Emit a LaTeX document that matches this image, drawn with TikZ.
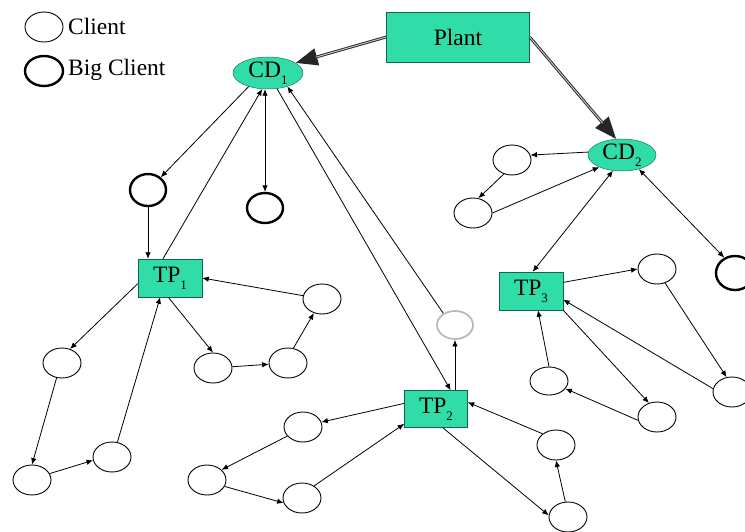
\documentclass[tikz,border=0pt]{standalone}
\usepackage{fontspec}
\setmainfont{Liberation Serif}
\usetikzlibrary{shapes.geometric,arrows.meta}
\definecolor{mint}{HTML}{30DDA8}
% label with a lowered index, e.g. CD_1
\newcommand\idx[2]{#1\raisebox{-0.3em}{\fontsize{13}{13}\selectfont #2}}
\tikzset{
  hub/.style={ellipse, fill=mint, draw=mint!55!black, line width=0.5pt, inner sep=0pt,
    minimum width=70pt, minimum height=28pt, font=\fontsize{23.5}{23.5}\selectfont},
  depot/.style={rectangle, fill=mint, draw=mint!45!black, line width=0.5pt, inner sep=0pt,
    minimum width=64pt, minimum height=38pt, font=\fontsize{23.5}{23.5}\selectfont},
  client/.style={ellipse, draw=black, line width=0.9pt, inner sep=0pt,
    minimum width=38pt, minimum height=30pt},
  bigclient/.style={client, line width=2.4pt},
  paleclient/.style={client, draw=gray!55, line width=1.8pt},
  legendtext/.style={anchor=west, inner sep=0pt, font=\fontsize{23.5}{23.5}\selectfont},
  flow/.style={-{Latex[length=6.5pt,width=5.5pt]}, line width=0.8pt},
  biflow/.style={{Latex[length=6.5pt,width=5.5pt]}-{Latex[length=6.5pt,width=5.5pt]}, line width=0.8pt},
  supply/.style={-{Triangle[length=22pt,width=17pt]}, line width=2.8pt, black!85},
  supplycore/.style={line width=0.9pt, gray!40, shorten >=21pt},
}
\begin{document}
\begin{tikzpicture}[x=1pt,y=-1pt]
\useasboundingbox (0,0) rectangle (745,531);

% legend
\node[client] (legc) at (44,27) {};
\node[legendtext] (legct) at (68,26) {Client};
\node[bigclient] (legb) at (44,71) {};
\node[legendtext] (legbt) at (68,70) {Big Client};

% plant, distribution centres, transfer points
\node[depot, minimum width=143pt, minimum height=50pt] (plant) at (458,37) {Plant};
\node[hub] (cd1) at (268,73) {\idx{CD}{1}};
\node[hub, minimum width=68pt] (cd2) at (622,155) {\idx{CD}{2}};
\node[depot] (tp1) at (170,278) {\idx{TP}{1}};
\node[depot, minimum width=63pt, minimum height=37pt] (tp2) at (436,409) {\idx{TP}{2}};
\node[depot] (tp3) at (531,291) {\idx{TP}{3}};

% clients
\node[bigclient, minimum width=36pt, minimum height=32pt] (bA) at (148,190) {};
\node[bigclient, minimum width=36pt] (bB) at (265,208) {};
\node[paleclient, minimum width=36pt, minimum height=28pt] (pg) at (455,325) {};
\node[bigclient, minimum height=34pt] (bf) at (735,273) {};

\node[client] (c1) at (62,363) {};
\node[client] (c2) at (32,480) {};
\node[client] (c3) at (112,457) {};
\node[client] (c4) at (213,368) {};
\node[client] (c5) at (288,363) {};
\node[client] (c6) at (322,299) {};

\node[client] (d1) at (303,427) {};
\node[client] (d2) at (207,480) {};
\node[client] (d3) at (302,498) {};
\node[client] (d4) at (568,517) {};
\node[client] (d5) at (556,445) {};

\node[client] (e1) at (512,160) {};
\node[client] (e2) at (473,213) {};

\node[client] (g1) at (657,269) {};
\node[client] (g2) at (732,392) {};
\node[client] (g3) at (657,417) {};
\node[client, minimum height=28pt] (g4) at (549,381) {};

% supply from the plant
\draw[supply] (plant.west) -- (cd1.20);
\draw[supplycore] (plant.west) -- (cd1.20);
\draw[supply] (plant.east) -- (cd2.110);
\draw[supplycore] (plant.east) -- (cd2.110);

% CD1 routes
\draw[flow] (cd1.215) -- (bA.45);
\draw[flow] (bA.south) -- (bA.south |- tp1.north);
\draw[flow] (tp1.110) -- (cd1.250);
\draw[biflow] (cd1.south -| bB) -- (bB.north);
\draw[flow] (cd1.300) -- (tp2.52);
\draw[flow] (pg.135) -- (cd1.325);
\draw[flow] (tp2.north -| pg) -- (pg.south);

% TP1 routes
\draw[flow] (tp1.190) -- (c1.60);
\draw[flow] (c1.250) -- (c2.north);
\draw[flow] (c2.20) -- (c3.190);
\draw[flow] (c3.70) -- (tp1.243);
\draw[flow] (tp1.265) -- (c4.north);
\draw[flow] (c4) -- (c5);
\draw[flow] (c5.70) -- (c6.240);
\draw[flow] (c6.170) -- (tp1.east);

% TP2 routes
\draw[flow] (tp2.170) -- (d1.15);
\draw[flow] (d1.210) -- (d2.35);
\draw[flow] (d2.340) -- (d3.195);
\draw[flow] (d3.45) -- (tp2.205);
\draw[flow] (tp2.290) -- (d4.175);
\draw[flow] (d4.100) -- (d5.south);
\draw[flow] (d5.140) -- (tp2.12);

% CD2 routes
\draw[flow] (cd2.175) -- (e1.15);
\draw[flow] (e1.240) -- (e2.70);
\draw[flow] (e2.0) -- (cd2.208);
\draw[biflow] (cd2.240) -- (tp3.85);
\draw[biflow] (cd2.320) -- (bf.125);

% TP3 routes
\draw[flow] (tp3.15) -- (g1.180);
\draw[flow] (g1.300) -- (g2.110);
\draw[flow] (g2.170) -- (tp3.345);
\draw[flow] (tp3.south east) -- (g3.120);
\draw[flow] (g3.190) -- (g4.335);
\draw[flow] (g4.north) -- (tp3.290);
\end{tikzpicture}
\end{document}
